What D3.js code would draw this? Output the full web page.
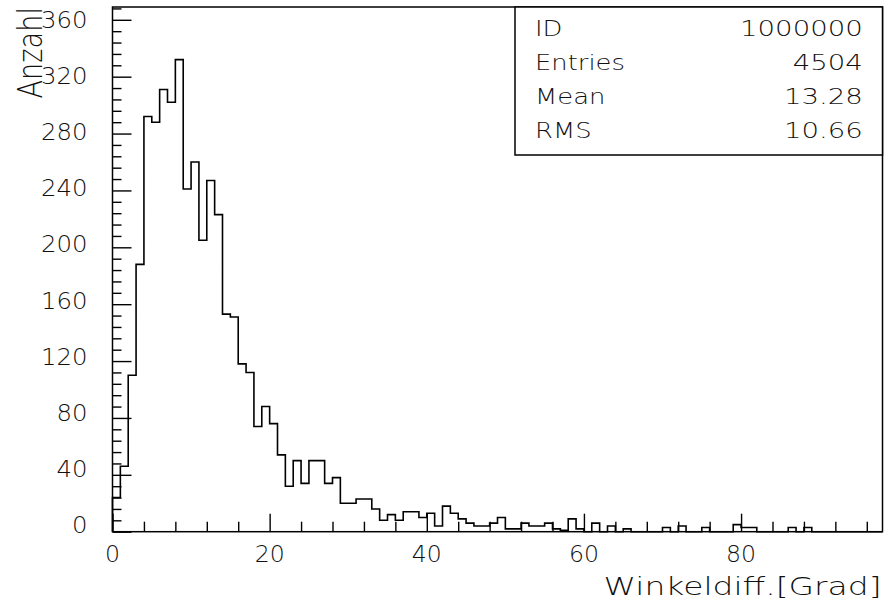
<!DOCTYPE html>
<html>
<head>
<meta charset="utf-8">
<script src="https://cdn.jsdelivr.net/npm/d3@7"></script>
<style>
  html, body { margin: 0; padding: 0; background: #fff; }
  svg { display: block; }
  text { font-family: "DejaVu Sans", "Liberation Sans", sans-serif; font-weight: 200; fill: #111; }
</style>
</head>
<body>
<svg id="chart" width="888" height="612"></svg>
<script>
// Histogram of angle differences, 1-degree bins starting at 0
const binLow = 0;
const binWidth = 1;
const counts = [
  24, 46, 110, 188, 292, 288, 311, 302, 332, 241, 260, 205, 247, 223,
  153, 151, 118, 112, 74, 88, 76, 54, 32, 50, 34, 50, 50, 34, 38,
  20, 20, 23, 23, 16, 8, 12, 8, 14, 14, 10, 13, 4, 18, 13, 9, 6,
  4, 4, 6, 10, 2, 2, 6, 4, 4, 6, 2, 1, 9, 2,
  0, 6, 0, 4, 0, 2, 0, 0, 0, 0, 3, 0, 4, 0, 0, 3, 0, 0, 0, 5,
  3, 3, 0, 0, 0, 0, 3, 0, 3, 0, 0, 0, 0, 0, 0, 0, 0, 0
];
const xMajorTicks = [0, 20, 40, 60, 80];
const yMajorTicks = [0, 40, 80, 120, 160, 200, 240, 280, 320, 360];
const statLabels = ["ID", "Entries", "Mean", "RMS"];
const statValues = ["1000000", "4504", "13.28", "10.66"];
const xTitle = "Winkeldiff.[Grad]";
const yTitle = "Anzahl";

const xMax = binLow + counts.length * binWidth;
const yMax = 369;

const svg = d3.select("#chart");
svg.append("rect").attr("width", 888).attr("height", 612).attr("fill", "#fff");

const frame = { left: 112.5, right: 882.5, top: 7, bottom: 531.7 };
const x = d3.scaleLinear().domain([binLow, xMax]).range([frame.left, frame.right]);
const y = d3.scaleLinear().domain([0, yMax]).range([frame.bottom, frame.top]);

// stretch a text horizontally to give the wide plotter-style lettering
function stretch(sel, factor) {
  sel.each(function () {
    const w = this.getComputedTextLength();
    d3.select(this).attr("textLength", w * factor).attr("lengthAdjust", "spacingAndGlyphs");
  });
}
function fitWidth(sel, widthFn) {
  sel.attr("textLength", widthFn).attr("lengthAdjust", "spacingAndGlyphs");
}

// histogram outline
const pts = [[binLow, 0]];
counts.forEach((c, i) => {
  const lo = binLow + i * binWidth;
  pts.push([lo, c], [lo + binWidth, c]);
});
pts.push([xMax, 0]);
svg.append("path")
  .attr("d", d3.line().x(d => x(d[0])).y(d => y(d[1]))(pts))
  .attr("fill", "none").attr("stroke", "#000").attr("stroke-width", 1.6)
  .attr("stroke-linejoin", "miter");

// frame
svg.append("rect")
  .attr("x", frame.left).attr("y", frame.top)
  .attr("width", frame.right - frame.left).attr("height", frame.bottom - frame.top)
  .attr("fill", "none").attr("stroke", "#000").attr("stroke-width", 1.5);

// y axis: ticks drawn inward
const yAxis = d3.axisRight(y)
  .tickValues(d3.range(0, yMax, 8))
  .tickSizeInner(0).tickSizeOuter(0).tickFormat("");
const gy = svg.append("g").attr("transform", `translate(${frame.left},0)`).call(yAxis);
gy.select(".domain").remove();
gy.selectAll(".tick line")
  .attr("x2", d => (d % 40 === 0 ? 19 : 9))
  .attr("stroke", "#000").attr("stroke-width", 1.4);

// x axis: ticks drawn inward
const xAxis = d3.axisTop(x)
  .tickValues(d3.range(0, xMax, 4))
  .tickSizeInner(0).tickSizeOuter(0).tickFormat("");
const gx = svg.append("g").attr("transform", `translate(0,${frame.bottom})`).call(xAxis);
gx.select(".domain").remove();
gx.selectAll(".tick line")
  .attr("y2", d => (d % 20 === 0 ? -18 : -10))
  .attr("stroke", "#000").attr("stroke-width", 1.4);

// tick labels
svg.append("g").selectAll("text").data(yMajorTicks).join("text")
  .attr("x", 87.5).attr("y", d => y(d) + 1.5 + 6.5 * d / 360)
  .attr("text-anchor", "end").attr("font-size", 23)
  .text(d => d).call(fitWidth, d => String(d).length * 15.5);

svg.append("g").selectAll("text").data(xMajorTicks).join("text")
  .attr("x", d => x(d)).attr("y", 562)
  .attr("text-anchor", "middle").attr("font-size", 23)
  .text(d => d).call(fitWidth, d => String(d).length * 15);

// axis titles
svg.append("text")
  .attr("x", 881.5).attr("y", 595)
  .attr("text-anchor", "end").attr("font-size", 25)
  .text(xTitle).call(fitWidth, 278);

// vertical title, condensed along its reading direction
svg.append("text")
  .attr("transform", "translate(42,7) rotate(-90) scale(0.8,1)")
  .attr("text-anchor", "end").attr("font-size", 34)
  .text(yTitle);

// statistics box
const box = { left: 515, top: frame.top, right: frame.right, bottom: 155 };
svg.append("rect")
  .attr("x", box.left).attr("y", box.top)
  .attr("width", box.right - box.left).attr("height", box.bottom - box.top)
  .attr("fill", "#fff").attr("stroke", "#000").attr("stroke-width", 1.5);

const rowY = i => 35.5 + i * 34.2;
svg.append("g").selectAll("text").data(statLabels).join("text")
  .attr("x", 535).attr("y", (d, i) => rowY(i))
  .attr("font-size", 21.5)
  .text(d => d).call(stretch, 1.2);
svg.append("g").selectAll("text").data(statValues).join("text")
  .attr("x", 862.7).attr("y", (d, i) => rowY(i))
  .attr("text-anchor", "end").attr("font-size", 21.5)
  .text(d => d).call(stretch, 1.28);
</script>
</body>
</html>
